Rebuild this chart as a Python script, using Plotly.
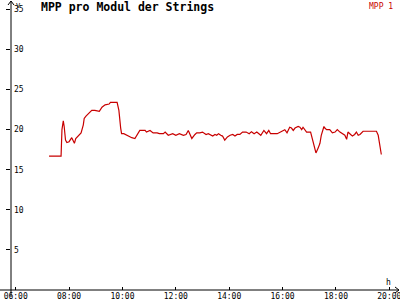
import plotly.graph_objects as go

DAY = "2024-06-01 "
series_name = "MPP 1"
times = ["07:15","07:42","07:44","07:47","07:49","07:52","07:55","08:00","08:06","08:09","08:12","08:15",
         "08:21","08:27","08:32","08:34","08:38","08:45","08:51","08:58","09:08","09:14","09:21","09:30",
         "09:33","09:48","09:52","09:56","09:58","10:03","10:09","10:21","10:28","10:32","10:39","10:51",
         "10:54","11:02","11:09","11:18","11:23","11:32","11:36","11:43","11:53","12:00","12:08","12:17",
         "12:23","12:28","12:36","12:43","12:47","12:54","13:00","13:08","13:13","13:23","13:28","13:32",
         "13:36","13:41","13:45","13:50","13:56","14:02","14:08","14:13","14:18","14:24","14:30","14:38",
         "14:45","14:50","14:56","15:02","15:05","15:11","15:18","15:24","15:29","15:33","15:48","15:54",
         "16:01","16:05","16:10","16:16","16:20","16:24","16:28","16:35","16:39","16:43","16:46","16:50",
         "16:54","17:03","17:07","17:11","17:15","17:20","17:24","17:27","17:30","17:33","17:35","17:39",
         "17:46","17:52","17:58","18:03","18:09","18:15","18:20","18:24","18:27","18:33","18:37","18:42",
         "18:46","18:50","18:54","19:01","19:31","19:35","19:39","19:42"]
values = [16.7,16.7,20.0,21.1,20.4,18.7,18.4,18.5,19.0,18.7,18.3,18.9,
          19.3,19.6,20.6,21.4,21.7,22.1,22.4,22.4,22.3,22.8,23.1,23.2,
          23.4,23.4,22.4,20.2,19.5,19.5,19.3,19.0,18.9,19.3,19.9,19.9,
          19.7,19.9,19.6,19.6,19.5,19.5,19.7,19.3,19.5,19.3,19.5,19.3,
          19.4,19.9,18.9,19.4,19.6,19.6,19.7,19.4,19.5,19.2,19.4,19.3,
          19.5,19.3,19.2,18.7,19.1,19.3,19.4,19.2,19.4,19.4,19.7,19.7,
          19.5,19.75,19.5,19.7,19.6,19.3,19.9,19.5,19.9,19.5,19.5,19.7,
          19.9,20.0,19.6,20.3,20.2,19.9,20.2,20.4,20.3,20.0,20.3,20.0,
          19.7,19.7,18.9,18.1,17.1,17.7,18.3,19.3,20.0,20.4,20.2,20.0,
          20.0,19.6,19.7,20.0,19.7,19.5,19.3,18.8,19.7,19.4,19.2,19.4,
          19.7,19.3,19.4,19.8,19.8,19.3,18.1,16.9]
y_ticks = [5, 10, 15, 20, 25, 30, 35]
x_ticks = ["06:00","08:00","10:00","12:00","14:00","16:00","18:00","20:00"]
title_text = "MPP pro Modul der Strings"
y_unit = "V"
x_unit = "h"

W, H = 400, 300
L, R, T, B = 11, 2, 3, 10
pw, ph = W - L - R, H - T - B

def px(x):
    return (x - L) / pw

def py(y):
    return (H - B - y) / ph

RED = "#c80000"
FONT = "DejaVu Sans Mono"

fig = go.Figure()
fig.add_trace(go.Scatter(x=[DAY + t for t in times], y=values, mode="lines",
                         line=dict(color=RED, width=1.2), name=series_name,
                         showlegend=False, hoverinfo="skip"))

shapes = [
    dict(type="line", xref="paper", yref="paper", x0=px(11), x1=px(11), y0=py(297), y1=py(1)),
    dict(type="line", xref="paper", yref="paper", x0=px(0), x1=px(399), y0=py(290), y1=py(290)),
    dict(type="path", xref="paper", yref="paper",
         path=f"M {px(8)} {py(5)} L {px(11)} {py(1)} L {px(14)} {py(5)}"),
    dict(type="path", xref="paper", yref="paper",
         path=f"M {px(395)} {py(287)} L {px(399)} {py(290)} L {px(395)} {py(293)}"),
]
for s in shapes:
    s["line"] = dict(color="black", width=1)
    s["layer"] = "above"

fig.update_layout(
    width=W, height=H,
    margin=dict(l=L, r=R, t=T, b=B, autoexpand=False),
    paper_bgcolor="white", plot_bgcolor="white",
    font=dict(family=FONT, size=8, color="black"),
    shapes=shapes,
    xaxis=dict(type="date", range=[DAY + "05:49:26", DAY + "20:19:30"],
               tickvals=[DAY + t for t in x_ticks], ticktext=x_ticks,
               ticks="inside", ticklen=3, tickcolor="black", showgrid=False,
               zeroline=False, showline=False, ticklabeloverflow="allow",
               ticklabelstandoff=0, automargin=False,
               tickfont=dict(family=FONT, size=8, color="black")),
    yaxis=dict(range=[0, 35.8], tickvals=y_ticks, ticks="outside", ticklen=4,
               tickcolor="black", showgrid=False, zeroline=False, showline=False,
               ticklabelposition="inside", ticklabeloverflow="allow", automargin=False,
               tickfont=dict(family=FONT, size=8, color="black")),
    annotations=[
        dict(text="<b>" + title_text + "</b>", xref="paper", yref="paper",
             x=px(39), y=py(7), xanchor="left", yanchor="middle", showarrow=False,
             font=dict(family=FONT, size=11.5, color="black")),
        dict(text=series_name, xref="paper", yref="paper", x=px(395), y=py(6),
             xanchor="right", yanchor="middle", showarrow=False,
             font=dict(family=FONT, size=8, color=RED)),
        dict(text=y_unit, xref="paper", yref="paper", x=px(14), y=py(0),
             xanchor="left", yanchor="top", showarrow=False,
             font=dict(family=FONT, size=7)),
        dict(text=x_unit, xref="paper", yref="paper", x=px(388), y=py(282),
             xanchor="center", yanchor="middle", showarrow=False,
             font=dict(family=FONT, size=8)),
    ],
)
fig.write_html("out.html")
